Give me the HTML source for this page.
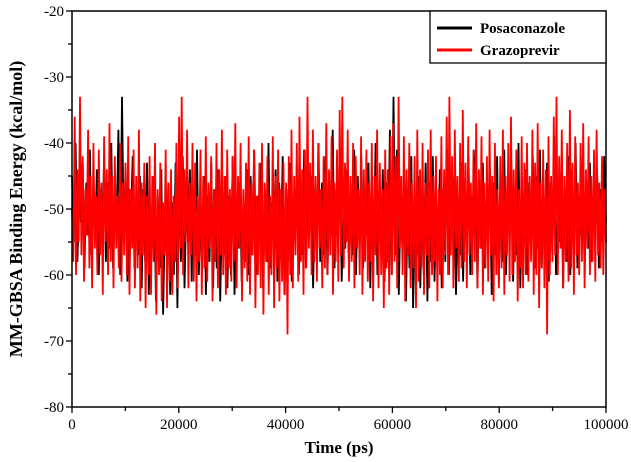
<!DOCTYPE html>
<html><head><meta charset="utf-8"><style>
html,body{margin:0;padding:0;background:#fff;width:631px;height:462px;overflow:hidden}
text{font-family:"Liberation Serif",serif}
</style></head><body>
<svg id="chart" width="631" height="462" viewBox="0 0 631 462" xmlns="http://www.w3.org/2000/svg"></svg>
<script>
const xTicks=[0,20000,40000,60000,80000,100000];
const yTicks=[-20,-30,-40,-50,-60,-70,-80];
const seriesNames=["Posaconazole","Grazoprevir"];
const posaconazole=[
-45,-55,-40,-58,-48,-52,-43,-59,-46,-54,-41,-57,-50,-53,-44,-60,-47,-55,-42,-58,
-46,-56,-40,-59,-49,-53,-38,-60,-33,-55,-44,-61,-47,-52,-42,-59,-48,-57,-45,-62,
-47,-58,-43,-63,-50,-56,-45,-64,-48,-59,-44,-66,-51,-57,-46,-63,-49,-60,-43,-65,
-46,-58,-42,-62,-49,-55,-44,-61,-47,-57,-41,-60,-50,-54,-45,-63,-48,-58,-43,-62,
-47,-59,-44,-64,-50,-57,-45,-62,-48,-60,-42,-63,-51,-56,-46,-61,-49,-58,-44,-60,
-45,-57,-41,-60,-48,-55,-43,-62,-47,-58,-40,-59,-49,-54,-44,-61,-46,-56,-42,-63,
-47,-58,-43,-61,-50,-55,-44,-60,-48,-57,-41,-59,-49,-53,-45,-62,-47,-56,-40,-58,
-46,-57,-42,-60,-48,-54,-38,-59,-47,-55,-43,-61,-49,-56,-44,-58,-46,-57,-41,-60,
-45,-56,-42,-59,-48,-54,-43,-62,-47,-57,-40,-60,-49,-55,-44,-61,-46,-58,-38,-60,
-33,-57,-41,-63,-48,-56,-44,-64,-47,-59,-42,-65,-50,-57,-45,-62,-48,-60,-43,-64,
-46,-58,-42,-61,-49,-55,-44,-62,-47,-58,-41,-60,-50,-54,-45,-63,-48,-57,-43,-61,
-46,-57,-42,-60,-48,-54,-41,-62,-47,-56,-43,-59,-49,-55,-44,-63,-46,-57,-42,-61,
-45,-58,-41,-60,-48,-55,-43,-61,-47,-57,-40,-62,-49,-54,-44,-60,-46,-56,-42,-59,
-45,-56,-41,-59,-48,-54,-43,-61,-46,-57,-39,-60,-49,-55,-44,-62,-47,-58,-42,-60,
-44,-57,-40,-59,-48,-54,-42,-60,-46,-56,-43,-58,-49,-53,-44,-59,-47,-55,-42,-52];
const grazoprevir=[
-50,-58,-36,-60,-44,-55,-33,-57,-42,-61,-47,-54,-38,-59,-45,-62,-40,-56,-48,-60,
-41,-57,-46,-63,-39,-55,-44,-60,-37,-58,-45,-62,-42,-56,-48,-59,-40,-61,-46,-57,
-43,-60,-39,-63,-47,-56,-41,-62,-45,-59,-38,-64,-46,-57,-43,-65,-48,-60,-42,-63,
-45,-58,-40,-66,-47,-60,-43,-64,-49,-57,-41,-65,-46,-61,-44,-63,-48,-58,-40,-62,
-36,-56,-33,-60,-44,-55,-38,-62,-46,-57,-40,-61,-43,-64,-48,-58,-41,-63,-45,-59,
-39,-61,-46,-56,-42,-64,-47,-58,-40,-62,-44,-57,-38,-60,-45,-63,-41,-59,-47,-61,
-42,-58,-37,-62,-45,-56,-40,-64,-47,-59,-43,-61,-39,-63,-46,-57,-41,-65,-48,-60,
-43,-62,-40,-66,-46,-58,-42,-63,-48,-60,-39,-65,-45,-59,-41,-64,-47,-61,-43,-63,
-46,-69,-42,-60,-38,-62,-45,-57,-40,-61,-36,-58,-44,-63,-41,-59,-33,-56,-43,-60,
-38,-58,-45,-61,-40,-56,-47,-62,-42,-59,-37,-60,-44,-57,-39,-63,-46,-58,-41,-61,
-35,-57,-33,-59,-43,-55,-38,-61,-45,-58,-40,-62,-42,-56,-47,-60,-39,-63,-44,-58,
-41,-61,-46,-58,-40,-64,-45,-57,-38,-62,-43,-60,-47,-65,-41,-59,-44,-63,-39,-60,
-37,-58,-42,-62,-33,-56,-45,-60,-39,-64,-44,-57,-40,-62,-46,-59,-42,-65,-38,-61,
-44,-59,-40,-63,-46,-57,-41,-62,-38,-60,-45,-58,-42,-64,-47,-60,-39,-62,-44,-57,
-36,-60,-33,-57,-42,-62,-38,-56,-45,-61,-40,-59,-35,-58,-43,-62,-39,-57,-46,-60,
-41,-58,-37,-62,-44,-56,-39,-63,-46,-59,-42,-61,-38,-57,-45,-64,-40,-60,-47,-62,
-42,-59,-38,-63,-45,-57,-40,-61,-36,-60,-44,-58,-41,-64,-47,-59,-39,-62,-43,-60,
-40,-61,-45,-58,-38,-63,-43,-60,-37,-65,-46,-59,-41,-62,-44,-69,-39,-60,-45,-58,
-36,-57,-33,-60,-42,-56,-38,-62,-45,-58,-40,-61,-35,-59,-43,-63,-39,-57,-46,-60,
-40,-58,-37,-62,-44,-56,-39,-60,-45,-58,-41,-61,-38,-57,-46,-59,-42,-60,-47,-55];
const L=72,R=606,T=11,B=407;
const sx=v=>L+(v-0)/(100000)*(R-L);
const sy=v=>T+(-20-v)/60*(B-T);
const svg=document.getElementById('chart');
const NS='http://www.w3.org/2000/svg';
function mk(tag,attrs,parent){const e=document.createElementNS(NS,tag);for(const k in attrs)e.setAttribute(k,attrs[k]);(parent||svg).appendChild(e);return e;}
function drawSeries(data,color,name){
  const step=100000/(data.length-1);
  const d=data.map((v,i)=>(i?'L':'M')+sx(i*step).toFixed(1)+','+sy(v).toFixed(1)).join('');
  const p=mk('path',{d:d,fill:'none',stroke:color,'stroke-width':1.8,'stroke-linejoin':'miter'});
  
  
}
drawSeries(posaconazole,'#000','series-posaconazole');
drawSeries(grazoprevir,'#f00','series-grazoprevir');
const fr=mk('rect',{x:L,y:T,width:R-L,height:B-T,fill:'none',stroke:'#000','stroke-width':1.5});


for(let v=0;v<=100000;v+=10000){
  const major=v%20000===0;
  mk('line',{x1:sx(v),x2:sx(v),y1:B,y2:B+(major?6:4),stroke:'#000','stroke-width':1.3});
}
xTicks.forEach(v=>{
  const t=mk('text',{x:sx(v),y:B+22,'text-anchor':'middle','font-size':15});
  t.textContent=v;
  
  
});
for(let v=-80;v<=-20;v+=5){
  const major=v%10===0;
  mk('line',{x1:L,x2:L-(major?6:4),y1:sy(v),y2:sy(v),stroke:'#000','stroke-width':1.3});
}
yTicks.forEach(v=>{
  const t=mk('text',{x:L-8,y:sy(v)+5,'text-anchor':'end','font-size':15});
  t.textContent=v;
  
  
});
const xt=mk('text',{x:(L+R)/2,y:453,'text-anchor':'middle','font-size':17,'font-weight':'bold'});
xt.textContent='Time (ps)';


const yt=mk('text',{x:0,y:0,'text-anchor':'middle','font-size':18,'font-weight':'bold',transform:'translate(22,'+((T+B)/2)+') rotate(-90)'});
yt.textContent='MM-GBSA Binding Energy (kcal/mol)';


const lg=mk('g',{});


mk('rect',{x:430,y:T,width:R-430,height:52,fill:'#fff',stroke:'#000','stroke-width':1.3},lg);
const colors=['#000','#f00'];
seriesNames.forEach((n,i)=>{
  const y=T+17+i*22;
  const g=mk('g',{},lg);
  
  
  mk('line',{x1:437,x2:472,y1:y,y2:y,stroke:colors[i],'stroke-width':3},g);
  const t=mk('text',{x:480,y:y+5,'font-size':15,'font-weight':'bold'},g);
  t.textContent=n;
});
</script>
</body></html>
